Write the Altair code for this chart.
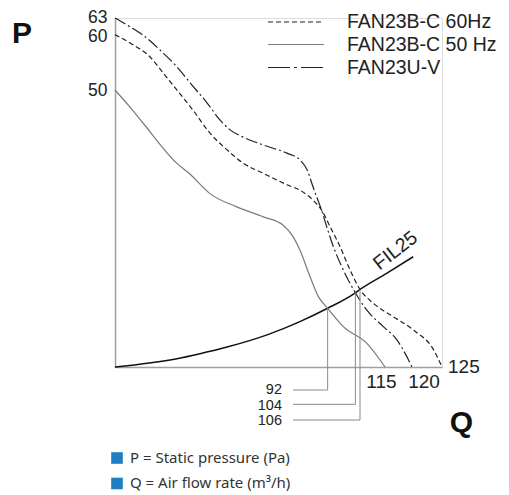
import altair as alt
import pandas as pd

# ---------------- data ----------------
SERIES = ["FAN23B-C 60Hz", "FAN23B-C 50 Hz", "FAN23U-V"]

# FAN23B-C 60Hz (dashed)
H60_Q = [0, 6.5, 15.1, 20.8, 26.8, 33.7, 41.1, 48.5, 55.4, 64.0, 74.4, 80.0,
         85.7, 89.4, 93.1, 97.4, 101.7, 106.0, 110.8, 116.5, 120.2, 123.6, 125]
H60_P = [60, 58.5, 56.0, 53.1, 50.0, 46.4, 42.2, 39.2, 36.8, 35.0, 32.9, 31.9,
         30.1, 28.3, 25.3, 21.7, 17.5, 14.0, 11.5, 9.1, 6.7, 3.1, 0]

# FAN23B-C 50 Hz (solid grey)
H50_Q = [0, 6.5, 12.2, 26.7, 32.5, 41.1, 52.7, 64.2, 72.8, 77.1, 80.0, 84.4,
         88.0, 92.0, 98.8, 108.4, 115]
H50_P = [50, 46.9, 44.0, 36.8, 34.8, 31.3, 28.9, 27.1, 25.6, 23.5, 21.1, 16.3,
         12.7, 10.6, 7.3, 4.3, 0]

# FAN23U-V (dash-dot)
UV_Q = [0, 6.5, 12.1, 20.8, 26.8, 32.5, 39.8, 45.4, 49.8, 55.4, 64.0, 74.4, 80.0,
        83.1, 85.7, 87.8, 89.4, 91.6, 94.5, 98.1, 104.0, 108.4, 114.4, 117.2, 118.7, 120]
UV_P = [63, 61.4, 59.9, 56.7, 54.2, 51.3, 47.7, 44.6, 42.8, 41.5, 40.1, 38.6, 37.4,
        35.6, 32.5, 30.1, 28.3, 25.3, 21.7, 18.1, 13.4, 10.3, 7.3, 4.9, 2.5, 0]

# FIL25 system curve
FIL_Q = [0, 26.8, 36.8, 48.5, 65.8, 80.0, 92.0, 104.0, 106.0, 115.3, 120.2]
FIL_P = [0, 1.5, 2.4, 3.6, 5.8, 8.2, 10.6, 13.4, 14.0, 16.9, 19.9]

# operating points
CROSS_Q = [92, 104, 106]
CROSS_P = [10.6, 13.4, 14.0]
CROSS_LABELS = ["92", "104", "106"]

END_Q = [115, 120, 125]
END_LABELS = ["115", "120", "125"]

Y_TICKS = [50, 60, 63]
X_BREAKS = [0, 106, 115, 120, 125]

NOTES = ["P = Static pressure (Pa)", "Q = Air flow rate (m³/h)"]

# ---------------- styling ----------------
FONT = "Liberation Sans"
DARK = "#222222"
GREY = "#7a7a7a"
AXIS_GREY = "#a0a0a0"
LEAD_GREY = "#8a8a8a"
BLUE = "#1f7fc4"
DASH_60 = [5, 3]
DASH_UV = [12, 3, 2, 3]

xscale = alt.Scale(domain=X_BREAKS, range=[0, 245, 270, 297, 327], nice=False, zero=False)
yscale = alt.Scale(domain=[0, 63], nice=False, zero=False)

X = alt.X("Q:Q", scale=xscale,
          axis=alt.Axis(labels=False, ticks=False, title=None, grid=False,
                        domainColor=AXIS_GREY, domainWidth=1.5))
Y = alt.Y("P:Q", scale=yscale,
          axis=alt.Axis(values=Y_TICKS, ticks=False, title=None, grid=False,
                        labelFontSize=17.5, labelColor=DARK, labelFont=FONT,
                        labelPadding=8, labelOverlap=False,
                        labelOffset={"expr": "datum.value == 60 ? 2 : (datum.value == 63 ? -0.5 : 0)"},
                        domainColor=AXIS_GREY, domainWidth=1.5))


def frame(q, p):
    return pd.DataFrame({"Q": q, "P": p})


layers = []

# system curve
layers.append(alt.Chart(frame(FIL_Q, FIL_P)).mark_line(
    color="#111111", strokeWidth=1.5, interpolate="monotone").encode(x=X, y=Y))

# fan curves
layers.append(alt.Chart(frame(H50_Q, H50_P)).mark_line(
    color=GREY, strokeWidth=1.2, interpolate="monotone").encode(x=X, y=Y))
layers.append(alt.Chart(frame(H60_Q, H60_P)).mark_line(
    color=DARK, strokeWidth=1.2, strokeDash=DASH_60, interpolate="monotone").encode(x=X, y=Y))
layers.append(alt.Chart(frame(UV_Q, UV_P)).mark_line(
    color=DARK, strokeWidth=1.2, strokeDash=DASH_UV, interpolate="monotone").encode(x=X, y=Y))

# leader lines for the operating points
LEVELS = [372, 386.3, 402]
TEXT_LEVELS = [372, 388, 403]
for q, p, lab, lev, tlev in zip(CROSS_Q, CROSS_P, CROSS_LABELS, LEVELS, TEXT_LEVELS):
    d = pd.DataFrame({"Q": [q], "P": [p], "label": [lab]})
    base = alt.Chart(d)
    layers.append(base.mark_rule(color=LEAD_GREY, strokeWidth=1).encode(
        x=X, y=Y, y2=alt.value(lev)))
    layers.append(base.mark_rule(color=LEAD_GREY, strokeWidth=1).encode(
        x=X, x2=alt.value(178), y=alt.value(lev)))
    layers.append(base.mark_text(align="right", baseline="middle", fontSize=14.5,
                                 font=FONT, color=DARK).encode(
        x=alt.value(167), y=alt.value(tlev), text="label:N"))

# end-of-curve labels
END_OFFSETS = [(-3.5, 15, "center"), (12, 15, "center"), (6, 0, "left")]
for q, lab, (dx, dy, al) in zip(END_Q, END_LABELS, END_OFFSETS):
    d = pd.DataFrame({"Q": [q], "P": [0], "label": [lab]})
    layers.append(alt.Chart(d).mark_text(align=al, baseline="middle", dx=dx, dy=dy,
                                         fontSize=19, font=FONT, color=DARK).encode(
        x=X, y=Y, text="label:N"))

# FIL25 label along its curve
d = pd.DataFrame({"Q": [FIL_Q[-2]], "P": [FIL_P[-2]], "label": ["FIL25"]})
layers.append(alt.Chart(d).mark_text(align="center", baseline="middle", angle=322,
                                     dx=21, dy=-12.5, fontSize=19.5, font=FONT,
                                     color=DARK).encode(x=X, y=Y, text="label:N"))

# legend (top right)
LEG_ROWS = [4, 26.5, 49.5]
LEG_STYLE = [dict(color=DARK, strokeDash=DASH_60),
             dict(color=GREY),
             dict(color=DARK, strokeDash=[22, 4, 3, 4])]
for name, row, sty in zip(SERIES, LEG_ROWS, LEG_STYLE):
    d = pd.DataFrame({"name": [name]})
    layers.append(alt.Chart(d).mark_rule(strokeWidth=1.2, **sty).encode(
        x=alt.value(153), x2=alt.value(209), y=alt.value(row)))
    layers.append(alt.Chart(d).mark_text(align="left", baseline="middle", fontSize=19.5,
                                         font=FONT, color=DARK).encode(
        x=alt.value(232), y=alt.value(row), text="name:N"))

# axis letters
layers.append(alt.Chart(pd.DataFrame({"t": ["P"]})).mark_text(
    align="center", baseline="alphabetic", fontSize=30, fontWeight="bold",
    font=FONT, color="#111111").encode(x=alt.value(-93), y=alt.value(24.7), text="t:N"))
layers.append(alt.Chart(pd.DataFrame({"t": ["Q"]})).mark_text(
    align="center", baseline="alphabetic", fontSize=30, fontWeight="bold",
    font=FONT, color="#111111").encode(x=alt.value(346.5), y=alt.value(414), text="t:N"))

# notes below
NOTE_ROWS = [(440, 445.3), (465.5, 469.5)]
for note, (sq_y, tx_y) in zip(NOTES, NOTE_ROWS):
    d = pd.DataFrame({"t": [note]})
    layers.append(alt.Chart(d).mark_square(size=135, color=BLUE, opacity=1).encode(
        x=alt.value(2), y=alt.value(sq_y)))
    layers.append(alt.Chart(d).mark_text(align="left", baseline="alphabetic",
                                         fontSize=15, font="Noto Sans",
                                         color="#333333").encode(
        x=alt.value(15), y=alt.value(tx_y), text="t:N"))

chart = alt.layer(*layers).properties(
    width=327, height=349,
    padding={"left": 107, "top": 10, "right": 58, "bottom": 126},
    autosize=alt.AutoSizeParams(type="none"),
).configure_view(stroke=None).configure(font=FONT)

chart.save("out.html", embed_options={"renderer": "svg", "actions": False})
